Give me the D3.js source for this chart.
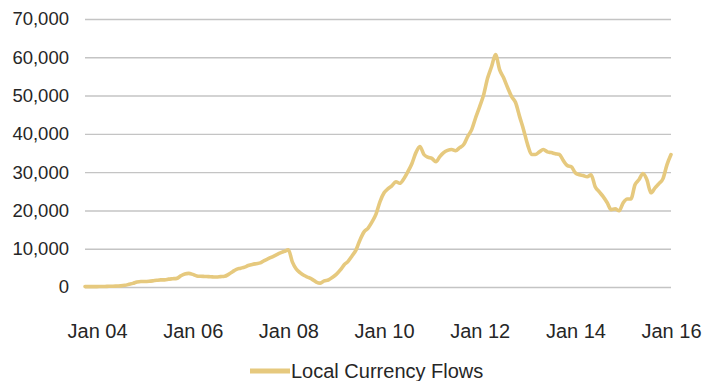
<!DOCTYPE html>
<html>
<head>
<meta charset="utf-8">
<script src="https://cdn.jsdelivr.net/npm/d3@7"></script>
<style>
  body { margin: 0; background: #fff; }
  text { font-family: "Liberation Sans", Arial, sans-serif; fill: #262626; }
</style>
</head>
<body>
<div id="chart"></div>
<script>
// Local currency flows, monthly, Oct 2003 - Jan 2016
const firstMonth = "2003-10";
const flows = [
  100, 100, 100,                                                                 // 2003 Oct-Dec
  100, 150, 150, 200, 200, 250, 300, 450, 700, 950, 1300, 1450,                  // 2004
  1450, 1500, 1600, 1750, 1850, 1850, 2050, 2150, 2250, 2900, 3400, 3550,        // 2005
  3300, 2900, 2800, 2750, 2700, 2650, 2600, 2700, 2800, 3300, 4000, 4600,        // 2006
  4900, 5200, 5600, 5900, 6100, 6300, 6900, 7400, 7900, 8400, 8900, 9300,        // 2007
  9700, 6500, 4700, 3700, 3000, 2500, 2000, 1300, 1000, 1600, 1830, 2500,        // 2008
  3300, 4450, 5760, 6700, 8100, 9700, 12300, 14400, 15400, 17000, 19100, 22300,  // 2009
  24600, 25700, 26400, 27500, 27100, 28300, 30100, 32200, 35100, 36700, 34600, 33900, // 2010
  33600, 32700, 34000, 35100, 35700, 35900, 35600, 36400, 37200, 39300, 41100, 44200, // 2011
  47100, 50300, 54500, 57600, 60700, 56800, 54700, 52100, 49700, 48200, 44500, 41100, // 2012
  37200, 34600, 34600, 35300, 35900, 35300, 35100, 34800, 34600, 33000, 31700, 31400, // 2013
  29800, 29300, 29100, 28800, 29300, 26200, 24900, 23600, 22000, 20200, 20400, 19900, // 2014
  22000, 23000, 23000, 26700, 28000, 29600, 28000, 24600, 25900, 27000, 28300, 31900, // 2015
  34600                                                                          // 2016 Jan
];
const yTicks = [0, 10000, 20000, 30000, 40000, 50000, 60000, 70000];
const xTickYears = ["2004", "2006", "2008", "2010", "2012", "2014", "2016"];
const seriesName = "Local Currency Flows";

const width = 724, height = 381;
const plot = { left: 85, right: 671, top: 19, bottom: 287 };
const lineColor = "#e6c97e";

const parseMonth = d3.timeParse("%Y-%m");
const start = parseMonth(firstMonth);
const data = flows.map((v, i) => ({ date: d3.timeMonth.offset(start, i), value: v }));

const x = d3.scaleTime()
  .domain(d3.extent(data, d => d.date))
  .range([plot.left, plot.right]);

const y = d3.scaleLinear()
  .domain([0, 70000])
  .range([plot.bottom, plot.top]);

const svg = d3.select("#chart").append("svg")
  .attr("width", width)
  .attr("height", height);

svg.append("rect").attr("width", width).attr("height", height).attr("fill", "#fff");

// gridlines + y labels
const yAxis = svg.append("g")
  .attr("transform", `translate(${plot.left},0)`)
  .call(d3.axisLeft(y)
    .tickValues(yTicks)
    .tickSize(-(plot.right - plot.left))
    .tickPadding(16)
    .tickFormat(d3.format(",")));
yAxis.select(".domain").remove();
yAxis.selectAll(".tick line")
  .attr("stroke", "#c4c4c4")
  .attr("stroke-width", 1.4);
yAxis.selectAll(".tick text")
  .style("font-size", "18.5px")
  .style("font-family", "Liberation Sans, Arial, sans-serif")
  .attr("fill", "#262626");

// x labels
const xAxis = svg.append("g")
  .attr("transform", `translate(0,${plot.bottom})`)
  .call(d3.axisBottom(x)
    .tickValues(xTickYears.map(yr => parseMonth(yr + "-01")))
    .tickSize(0)
    .tickPadding(37)
    .tickFormat(d3.timeFormat("Jan %y")));
xAxis.select(".domain").remove();
xAxis.selectAll(".tick text")
  .style("font-size", "20px")
  .style("font-family", "Liberation Sans, Arial, sans-serif")
  .attr("fill", "#262626");

// series line
const line = d3.line()
  .x(d => x(d.date))
  .y(d => y(d.value))
  .curve(d3.curveMonotoneX);

svg.append("path")
  .datum(data)
  .attr("fill", "none")
  .attr("stroke", lineColor)
  .attr("stroke-width", 3.6)
  .attr("stroke-linejoin", "round")
  .attr("stroke-linecap", "round")
  .attr("d", line);

// legend
const legend = svg.append("g").attr("transform", "translate(250,371)");
legend.append("line")
  .attr("x1", 0).attr("x2", 40)
  .attr("y1", 0).attr("y2", 0)
  .attr("stroke", lineColor)
  .attr("stroke-width", 5);
legend.append("text")
  .attr("x", 41)
  .attr("y", 7)
  .style("font-size", "20px")
  .text(seriesName);
</script>
</body>
</html>
